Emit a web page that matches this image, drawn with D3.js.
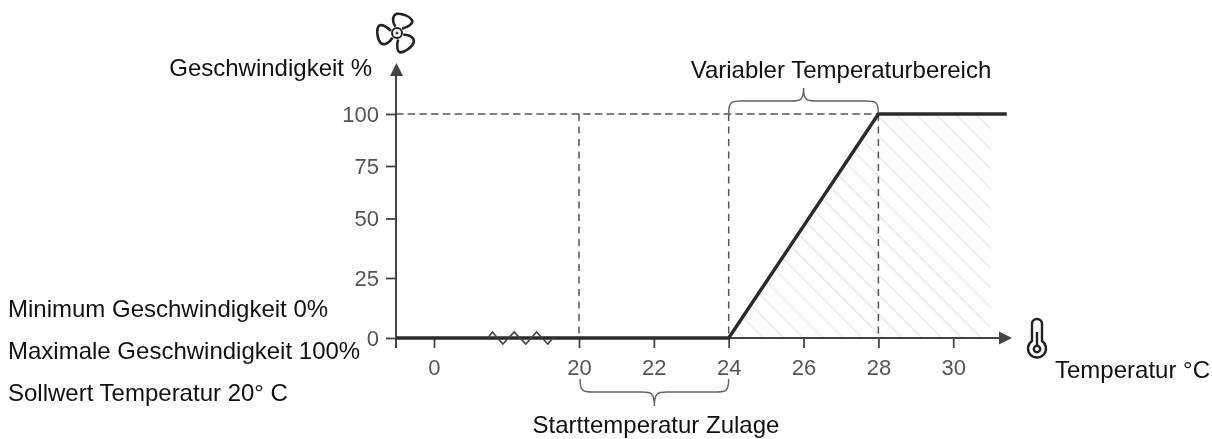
<!DOCTYPE html>
<html><head><meta charset="utf-8">
<style>html,body{margin:0;padding:0;background:#fff;overflow:hidden}svg{display:block;filter:blur(0.35px)}text{font-family:"Liberation Sans",Arial,sans-serif}</style>
<script src="https://cdnjs.cloudflare.com/ajax/libs/d3/7.8.5/d3.min.js"></script>
</head><body><svg id="c" width="1212" height="439"></svg>
<script>
const xTicks=[0,20,22,24,26,28,30];
const yTicks=[0,25,50,75,100];
const curveTemp=[-5.24,24,28,31.43];
const curveSpeed=[0,0,100,100];
const guideTemps=[20,24,28];
const hatchTemp=[24,28,31];
const hatchSpeed=[0,100,100];
const noteLabels=["Minimum Geschwindigkeit 0%","Maximale Geschwindigkeit 100%","Sollwert Temperatur 20° C"];
const breakTemp=[7.45,8.05,9.5,11.05,12.65,14.15,15.7,16.4];
const breakOffset=[0,-1,1,-1,1,-1,1,0];

const svg=d3.select("#c");
const x=d3.scaleLinear().domain([-5.24,20,31.57]).range([396,579,1012]);
const y=d3.scaleLinear().domain([0,25,50,75,100]).range([338,278,218.5,166,114]);
const ink="#444",thick="#2b2b2b",grey="#555";

const defs=svg.append("defs");
defs.append("pattern").attr("id","h").attr("patternUnits","userSpaceOnUse")
 .attr("width",14).attr("height",14).attr("patternTransform","rotate(45)")
 .append("line").attr("x1",0).attr("x2",14).attr("y1",7).attr("y2",7)
 .attr("stroke","#e2e2e2").attr("stroke-width",1.2);

const hatchPts=hatchTemp.map((t,i)=>[x(t),y(hatchSpeed[i])]);
hatchPts.push([x(31),y(0)]);
svg.append("path").attr("d",d3.line()(hatchPts)+"Z").attr("fill","url(#h)");

// dashed guides
svg.append("line").attr("x1",x(-5.24)).attr("x2",x(28)).attr("y1",y(100)).attr("y2",y(100))
 .attr("stroke",grey).attr("stroke-width",1.5).attr("stroke-dasharray","7.5 4.2");
svg.selectAll(".g").data(guideTemps).join("line")
 .attr("x1",d=>x(d)).attr("x2",d=>x(d)).attr("y1",y(100)).attr("y2",y(0))
 .attr("stroke",grey).attr("stroke-width",1.5).attr("stroke-dasharray","7 5.5");

// axes
const ax=svg.append("g").attr("transform",`translate(0,${y(0)})`)
 .call(d3.axisBottom(x).tickValues(xTicks).tickSize(10).tickPadding(11).tickFormat(d3.format("d")));
const ay=svg.append("g").attr("transform",`translate(${x(-5.24)},0)`)
 .call(d3.axisLeft(y).tickValues(yTicks).tickSize(10).tickPadding(7).tickFormat(d3.format("d")));
[ax,ay].forEach(a=>{a.select(".domain").remove();
 a.selectAll("line").attr("stroke",ink).attr("stroke-width",1.8);
 a.selectAll("text").attr("fill",grey).attr("font-size",22).attr("font-family",'"Liberation Sans",Arial,sans-serif');});
ax.selectAll("text").attr("dy","0.71em");

// axis lines with arrows
svg.append("line").attr("x1",x(-5.24)).attr("x2",x(-5.24)).attr("y1",348).attr("y2",74).attr("stroke",ink).attr("stroke-width",2);
svg.append("path").attr("d",d3.line()([[390,76],[403,76],[396.5,63]])+"Z").attr("fill",ink);
svg.append("line").attr("x1",x(-5.24)).attr("x2",1000).attr("y1",y(0)).attr("y2",y(0)).attr("stroke",ink).attr("stroke-width",2);
svg.append("path").attr("d",d3.line()([[999,331.5],[999,344.5],[1012,338]])+"Z").attr("fill",ink);

// curve
svg.append("path").attr("fill","none").attr("stroke",thick).attr("stroke-width",3.4)
 .attr("d",d3.line().x((d,i)=>x(curveTemp[i])).y((d,i)=>y(d))(curveSpeed));

// axis break
svg.append("path").attr("fill","none").attr("stroke",ink).attr("stroke-width",1.7)
 .attr("d",d3.line().x((d,i)=>x(breakTemp[i])).y(d=>y(0)+d*6)(breakOffset));

// braces
const brace=(x0,x1,yEnd,yBar,yTip)=>{const m=(x0+x1)/2;
 return `M${x0},${yEnd}C${x0},${yBar} ${x0+4},${yBar} ${x0+12},${yBar}L${m-12},${yBar}C${m-4},${yBar} ${m},${yBar} ${m},${yTip}C${m},${yBar} ${m+4},${yBar} ${m+12},${yBar}L${x1-12},${yBar}C${x1-4},${yBar} ${x1},${yBar} ${x1},${yEnd}`;};
svg.append("path").attr("d",brace(x(24),x(28),113,101,88)).attr("fill","none").attr("stroke","#666").attr("stroke-width",1.5);
svg.append("path").attr("d",brace(x(20)+1,x(24),379,392,406)).attr("fill","none").attr("stroke","#666").attr("stroke-width",1.5);

// fan
const fan=svg.append("g").attr("transform","translate(397,33)");
[18,138,258].forEach(r=>fan.append("path").attr("transform",`rotate(${r})`)
 .attr("d","M-3.5,-5.5C-8,-9 -10,-15 -6.5,-18C-2,-20.5 8,-20 11,-16C12,-12 7,-8 3.5,-5.5")
 .attr("fill","none").attr("stroke","#222").attr("stroke-width",2.6).attr("stroke-linejoin","round"));
fan.append("circle").attr("r",5).attr("fill","#fff").attr("stroke","#222").attr("stroke-width",2);
fan.append("circle").attr("r",1.5).attr("fill","#444");

// thermometer
const th=svg.append("g").attr("fill","none").attr("stroke","#222").attr("stroke-width",2.4);
th.append("path").attr("d","M1032,341V324A5,5 0 0 1 1042,324V341A9,9 0 1 1 1032,341Z");
th.append("circle").attr("cx",1037).attr("cy",349).attr("r",3.2);
th.append("line").attr("x1",1037).attr("x2",1037).attr("y1",332).attr("y2",345);

// labels
const lab=(s,xx,yy,a)=>svg.append("text").text(s).attr("x",xx).attr("y",yy).attr("text-anchor",a||"start").attr("fill","#111").attr("font-size",24);
lab("Geschwindigkeit %",372,76,"end");
lab("Variabler Temperaturbereich",841,78,"middle");
lab("Starttemperatur Zulage",656,433,"middle");
lab("Temperatur °C",1055,378);
noteLabels.forEach((s,i)=>lab(s,8,317+i*42));
</script></body></html>
